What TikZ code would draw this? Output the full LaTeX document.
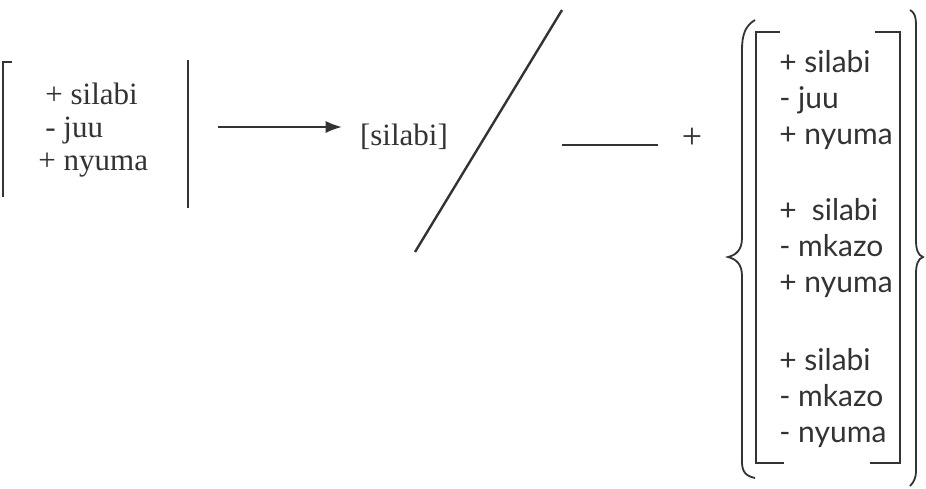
\documentclass[tikz,border=0pt]{standalone}
\usepackage{fontspec}
\setmainfont{Liberation Serif}
\newfontfamily\featfont{Lato}
\usetikzlibrary{arrows.meta,positioning}
\definecolor{inkgray}{HTML}{333333}
\tikzset{
  featstack/.style={
    align=left,
    inner sep=0pt,
    font=\fontsize{15.5}{16.3}\selectfont,
    text=inkgray
  },
  featcol/.style={
    align=left,
    inner sep=0pt,
    anchor=west,
    font=\featfont\fontsize{15}{18}\selectfont,
    text=inkgray
  },
  rule/.style={
    draw=inkgray,
    line width=1pt
  },
  arrow/.style={
    -{Latex[length=8pt,width=6pt]},
    draw=inkgray,
    line width=0.7pt
  }
}

\begin{document}
\begin{tikzpicture}[x=0.5pt,y=-0.5pt]
\useasboundingbox (0,0) rectangle (926,488);
% left matrix
\node[featstack, anchor=west] (lfeat) at (38,130) {\hspace{3.5pt}+ silabi\\\hspace{3.5pt}- juu\\+ nyuma};
\draw[rule] (12,62) -- (3,62) -- (3,197);
\draw[rule] (188,60) -- (188,208);
\coordinate (lbar) at (188,127);
% output
\node[featstack] (silabi) at (404,137) {[silabi]};
\draw[arrow, shorten <=15pt, shorten >=9pt] (lbar) -- (silabi.west |- lbar);
\draw[rule, line width=1.2pt] (562,10) -- (415,252);
% environment
\draw[rule, line width=0.8pt] (562,145) -- (658,145);
\node[featstack, font=\fontsize{18}{18}\selectfont] (plus) at (692,138) {+};
\draw[rule, line width=0.9pt] (755,20) .. controls (745,26) and (742,35) .. (742,50) -- (742,238)
  .. controls (742,250) and (736,255) .. (728,257) .. controls (736,259) and (742,264) .. (742,276)
  -- (742,462) .. controls (742,472) and (746,476) .. (755,478);
\draw[rule, line width=0.9pt] (910,10) .. controls (917,14) and (916,22) .. (916,35) -- (916,240)
  .. controls (916,250) and (918,255) .. (923,257) .. controls (918,259) and (916,264) .. (916,274)
  -- (916,470) .. controls (916,478) and (914,482) .. (910,486);
\draw[rule] (780,32) -- (756,32) -- (756,463) -- (784,463);
\draw[rule] (875,32) -- (900,32) -- (900,463) -- (870,463);
\foreach \n/\y/\txt in {1/100/{+ silabi\\- juu\\+ nyuma},
                       2/248/{+\enspace silabi\\- mkazo\\+ nyuma},
                       3/398/{+ silabi\\- mkazo\\- nyuma}} {
  \node[featcol] (grp\n) at (779,\y) {\txt};
}
\end{tikzpicture}
\end{document}
